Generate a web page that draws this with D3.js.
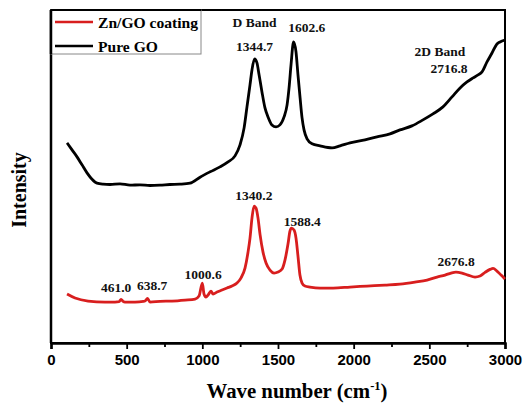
<!DOCTYPE html>
<html>
<head>
<meta charset="utf-8">
<script src="https://cdn.jsdelivr.net/npm/d3@7"></script>
<style>
  html, body { margin: 0; padding: 0; background: #fff; }
  svg { display: block; }
</style>
</head>
<body>
<svg id="chart" width="523" height="406"></svg>
<script>
// Raman spectra: wavenumber (cm^-1) and relative intensity (a.u.)
const goWave = [106,139,172,205,238,271,304,344,390,456,522,588,654,720,786,852,919,985,1051,1117,1170,1216,1249,1276,1295,1315,1328,1345,1361,1374,1394,1414,1434,1460,1487,1513,1540,1560,1573,1586,1603,1619,1632,1646,1659,1672,1692,1725,1778,1857,1910,1976,2075,2154,2240,2306,2385,2458,2524,2590,2650,2703,2749,2789,2822,2848,2881,2914,2947,2967,3000];
const goIntensity = [60.1,58.0,55.9,53.5,51.1,49.2,48.0,47.7,47.6,47.8,47.4,47.5,47.3,47.4,47.6,47.7,48.0,49.8,51.4,52.9,54.4,56.2,59.5,64.6,70.9,77.5,82.0,85.3,84.1,80.8,75.4,70.6,67.9,65.5,64.9,65.5,67.9,71.5,76.6,83.5,90.4,87.4,80.5,73.6,67.6,64.0,61.3,59.8,59.2,58.6,59.2,60.1,61.0,61.9,62.8,64.0,65.2,67.0,68.8,70.9,73.9,76.6,78.4,79.6,80.5,81.4,84.4,87.1,89.8,90.4,91.0];

const znWave = [106,159,245,357,423,450,463,476,489,555,610,621,638,654,720,800,886,952,978,1000,1011,1024,1038,1057,1071,1097,1130,1163,1196,1229,1255,1282,1302,1315,1328,1342,1355,1368,1381,1401,1421,1447,1474,1500,1527,1546,1566,1579,1589,1606,1619,1632,1645,1659,1678,1711,1778,1864,1976,2088,2207,2306,2405,2485,2551,2604,2643,2676,2716,2755,2802,2835,2868,2901,2921,2947,2974,3000];
const znIntensity = [14.7,13.5,12.6,12.3,12.3,12.4,13.1,12.5,12.3,12.3,12.5,12.6,13.4,12.3,12.5,12.6,12.9,13.2,14.1,18.0,14.7,13.8,14.4,15.6,14.7,15.3,15.9,16.5,17.1,18.0,19.5,22.5,27.3,31.5,37.5,41.1,40.5,37.5,32.7,27.3,24.0,21.9,21.0,21.3,22.2,24.9,29.7,33.6,34.5,33.9,31.5,26.1,20.4,18.0,17.1,16.8,16.5,16.5,16.8,17.1,17.4,17.7,18.3,18.9,19.8,20.4,21.0,21.3,21.0,20.4,19.8,20.1,21.2,22.1,22.4,21.6,20.4,19.2];

const seriesNames = ["Zn/GO coating", "Pure GO"];
const seriesColors = ["#d81e1e", "#000000"];
const xTicks = [0, 500, 1000, 1500, 2000, 2500, 3000];
const xMinorTicks = [250, 750, 1250, 1750, 2250, 2750];

// Peak annotations: [text, wavenumber, intensity, anchor]
const peakLabels = [
  ["D Band", 1344.7, 96.3, "middle"],
  ["1344.7", 1344.7, 88.9, "middle"],
  ["1602.6", 1690, 94.6, "middle"],
  ["2D Band", 2570, 87.4, "middle"],
  ["2716.8", 2753, 82.4, "end"],
  ["1340.2", 1340.2, 44.4, "middle"],
  ["1588.4", 1660, 36.6, "middle"],
  ["1000.6", 1005, 20.7, "middle"],
  ["461.0", 430, 16.8, "middle"],
  ["638.7", 668, 17.4, "middle"],
  ["2676.8", 2676.8, 24.6, "middle"]
];

const svg = d3.select("#chart");
const m = { left: 51, right: 505, top: 10, bottom: 343 };

const x = d3.scaleLinear().domain([0, 3000]).range([m.left, m.right]);
const y = d3.scaleLinear().domain([0, 100]).range([m.bottom, m.top]);

const serif = "'Liberation Serif', 'Times New Roman', serif";
const sans = "'Liberation Sans', Arial, sans-serif";

// Frame
svg.append("rect")
  .attr("x", m.left).attr("y", m.top)
  .attr("width", m.right - m.left).attr("height", m.bottom - m.top)
  .attr("fill", "none").attr("stroke", "#000").attr("stroke-width", 2);

// Spectra
const line = d3.line()
  .x(d => x(d[0])).y(d => y(d[1]))
  .curve(d3.curveMonotoneX);

const goData = d3.zip(goWave, goIntensity);
const znData = d3.zip(znWave, znIntensity);

svg.append("path").datum(znData)
  .attr("d", line).attr("fill", "none")
  .attr("stroke", seriesColors[0]).attr("stroke-width", 2.8)
  .attr("stroke-linejoin", "round");

svg.append("path").datum(goData)
  .attr("d", line).attr("fill", "none")
  .attr("stroke", seriesColors[1]).attr("stroke-width", 2.8)
  .attr("stroke-linejoin", "round");

// Bottom axis
const xAxis = d3.axisBottom(x)
  .tickValues(xTicks)
  .tickSize(6).tickPadding(5)
  .tickFormat(d3.format("d"));
const gx = svg.append("g")
  .attr("transform", `translate(0,${m.bottom})`)
  .call(xAxis);
gx.select(".domain").attr("stroke", "#000").attr("stroke-width", 2.5);
gx.selectAll(".tick line").attr("stroke", "#000").attr("stroke-width", 1.8);
gx.selectAll(".tick text")
  .attr("font-family", sans).attr("font-weight", "bold")
  .attr("font-size", 15).attr("fill", "#000");

const gMinor = svg.append("g")
  .attr("transform", `translate(0,${m.bottom})`)
  .call(d3.axisBottom(x).tickValues(xMinorTicks).tickSize(4).tickFormat(""));
gMinor.select(".domain").remove();
gMinor.selectAll(".tick line").attr("stroke", "#000").attr("stroke-width", 1.8);

// Left axis line
svg.append("line")
  .attr("x1", m.left).attr("x2", m.left)
  .attr("y1", m.top).attr("y2", m.bottom)
  .attr("stroke", "#000").attr("stroke-width", 2.5);

// Axis titles
const xTitle = svg.append("text")
  .attr("x", 297).attr("y", 398)
  .attr("text-anchor", "middle")
  .attr("font-family", serif).attr("font-weight", "bold")
  .attr("font-size", 20.8);
xTitle.append("tspan").text("Wave number (cm");
xTitle.append("tspan").text("-1").attr("font-size", 12.5).attr("dy", -8);
xTitle.append("tspan").text(")").attr("dy", 8);

svg.append("text")
  .attr("transform", "translate(26,190) rotate(-90)")
  .attr("text-anchor", "middle")
  .attr("font-family", serif).attr("font-weight", "bold")
  .attr("font-size", 20)
  .text("Intensity");

// Peak labels
svg.append("g").selectAll("text")
  .data(peakLabels)
  .join("text")
  .attr("x", d => x(d[1]))
  .attr("y", d => y(d[2]))
  .attr("text-anchor", d => d[3])
  .attr("dominant-baseline", "central")
  .attr("font-family", serif).attr("font-weight", "bold")
  .attr("font-size", 13.5)
  .attr("fill", "#111")
  .text(d => d[0]);

// Legend
const legend = svg.append("g");
legend.append("rect")
  .attr("x", m.left).attr("y", m.top)
  .attr("width", 150).attr("height", 44)
  .attr("fill", "#fff").attr("stroke", "#888").attr("stroke-width", 1);
seriesNames.forEach((name, i) => {
  const ly = 22 + i * 24;
  legend.append("line")
    .attr("x1", 55).attr("x2", 93)
    .attr("y1", ly).attr("y2", ly)
    .attr("stroke", seriesColors[i]).attr("stroke-width", 2.6);
  legend.append("text")
    .attr("x", 98).attr("y", ly)
    .attr("dominant-baseline", "central")
    .attr("font-family", serif).attr("font-weight", "bold")
    .attr("font-size", 15.6)
    .text(name);
});
// redraw frame edges over the legend box
svg.append("line")
  .attr("x1", m.left).attr("x2", m.left).attr("y1", m.top).attr("y2", m.top + 44)
  .attr("stroke", "#000").attr("stroke-width", 2.5);
svg.append("line")
  .attr("x1", m.left).attr("x2", m.left + 150).attr("y1", m.top).attr("y2", m.top)
  .attr("stroke", "#000").attr("stroke-width", 2);
</script>
</body>
</html>
